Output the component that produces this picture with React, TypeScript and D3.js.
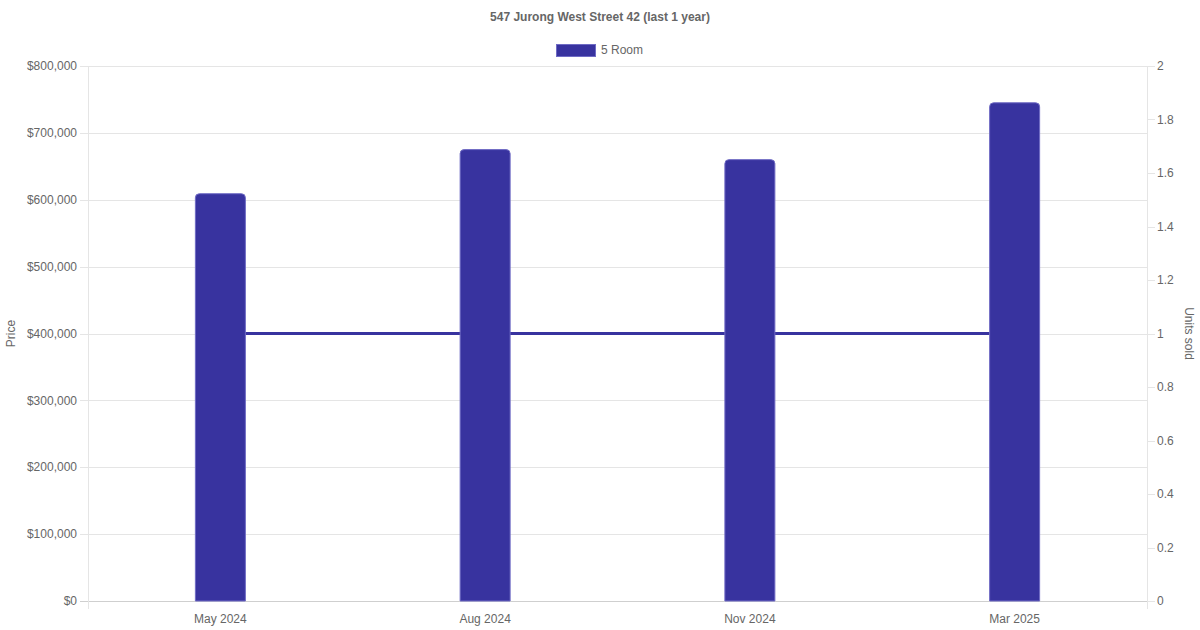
import React, { useEffect, useRef } from 'react';
import * as d3 from 'd3';

const months = ['May 2024', 'Aug 2024', 'Nov 2024', 'Mar 2025'];
const prices = [609000, 675000, 660000, 745000];
const unitsSold = [1, 1, 1, 1];
const priceTicks = [0, 100000, 200000, 300000, 400000, 500000, 600000, 700000, 800000];
const unitTicks = [0, 0.2, 0.4, 0.6, 0.8, 1, 1.2, 1.4, 1.6, 1.8, 2];

const W = 1200;
const H = 630;
const BAR = '#38339f';
const FONT = '"Liberation Sans", Arial, Helvetica, sans-serif';

export default function App() {
  const svgRef = useRef<SVGSVGElement>(null);

  useEffect(() => {
    if (!svgRef.current) return;
    const svg = d3.select(svgRef.current);
    svg.selectAll('*').remove();

    const left = 88, right = 1147, top = 66, bottom = 601;

    const x = d3.scaleBand().domain(months).range([left, right]);
    const yL = d3.scaleLinear().domain([0, 800000]).range([bottom, top]);
    const yR = d3.scaleLinear().domain([0, 2]).range([bottom, top]);

    // grid
    svg.append('g')
      .selectAll('line')
      .data(priceTicks)
      .enter()
      .append('line')
      .attr('x1', left - 8)
      .attr('x2', right)
      .attr('y1', d => Math.round(yL(d)) + 0.5)
      .attr('y2', d => Math.round(yL(d)) + 0.5)
      .attr('stroke', d => (d === 0 ? '#cfcfcf' : '#e5e5e5'))
      .attr('stroke-width', 1);

    // right ticks
    svg.append('g')
      .selectAll('line')
      .data(unitTicks)
      .enter()
      .append('line')
      .attr('x1', right)
      .attr('x2', right + 8)
      .attr('y1', d => Math.round(yR(d)) + 0.5)
      .attr('y2', d => Math.round(yR(d)) + 0.5)
      .attr('stroke', '#e5e5e5');

    // vertical axis lines
    svg.append('line')
      .attr('x1', left + 0.5).attr('x2', left + 0.5)
      .attr('y1', top).attr('y2', bottom + 8)
      .attr('stroke', '#e5e5e5');
    svg.append('line')
      .attr('x1', right + 0.5).attr('x2', right + 0.5)
      .attr('y1', top).attr('y2', bottom + 8)
      .attr('stroke', '#e5e5e5');

    // left tick labels
    svg.append('g')
      .selectAll('text')
      .data(priceTicks)
      .enter()
      .append('text')
      .attr('x', left - 11)
      .attr('y', d => yL(d))
      .attr('dy', '0.35em')
      .attr('text-anchor', 'end')
      .attr('fill', '#666')
      .style('font-size', '12px')
      .text(d => '$' + d3.format(',')(d));

    // right tick labels
    svg.append('g')
      .selectAll('text')
      .data(unitTicks)
      .enter()
      .append('text')
      .attr('x', right + 10)
      .attr('y', d => yR(d))
      .attr('dy', '0.35em')
      .attr('text-anchor', 'start')
      .attr('fill', '#666')
      .style('font-size', '12px')
      .text(d => String(d));

    // x labels
    svg.append('g')
      .selectAll('text')
      .data(months)
      .enter()
      .append('text')
      .attr('x', d => (x(d) || 0) + x.bandwidth() / 2)
      .attr('y', bottom + 18)
      .attr('dy', '0.35em')
      .attr('text-anchor', 'middle')
      .attr('fill', '#666')
      .style('font-size', '12px')
      .text(d => d);

    // axis titles
    svg.append('text')
      .attr('transform', `translate(15,${(top + bottom) / 2}) rotate(-90)`)
      .attr('text-anchor', 'middle')
      .attr('fill', '#666')
      .style('font-size', '12px')
      .text('Price');
    svg.append('text')
      .attr('transform', `translate(1185,${(top + bottom) / 2}) rotate(90)`)
      .attr('text-anchor', 'middle')
      .attr('fill', '#666')
      .style('font-size', '12px')
      .text('Units sold');

    // line (behind bars)
    const line = d3.line<number>()
      .x((_, i) => (x(months[i]) || 0) + x.bandwidth() / 2)
      .y(d => yR(d));
    svg.append('path')
      .datum(unitsSold)
      .attr('d', line)
      .attr('fill', 'none')
      .attr('stroke', BAR)
      .attr('stroke-width', 3);

    // bars with rounded tops
    const bw = 50;
    const r = 4;
    svg.append('g')
      .selectAll('path')
      .data(prices)
      .enter()
      .append('path')
      .attr('d', (d, i) => {
        const cx = (x(months[i]) || 0) + x.bandwidth() / 2;
        const x0 = cx - bw / 2, x1 = cx + bw / 2;
        const y0 = yL(d), y1 = yL(0);
        return `M${x0},${y1}V${y0 + r}Q${x0},${y0} ${x0 + r},${y0}H${x1 - r}Q${x1},${y0} ${x1},${y0 + r}V${y1}Z`;
      })
      .attr('fill', BAR)
      .attr('stroke', '#6f6bc4')
      .attr('stroke-width', 1);

    // title
    svg.append('text')
      .attr('x', W / 2)
      .attr('y', 17)
      .attr('dy', '0.35em')
      .attr('text-anchor', 'middle')
      .attr('fill', '#666')
      .style('font-size', '12px')
      .style('font-weight', 'bold')
      .text('547 Jurong West Street 42 (last 1 year)');

    // legend
    svg.append('rect')
      .attr('x', 556.5).attr('y', 44.5)
      .attr('width', 39).attr('height', 12)
      .attr('fill', BAR)
      .attr('stroke', '#6f6bc4');
    svg.append('text')
      .attr('x', 601)
      .attr('y', 50)
      .attr('dy', '0.35em')
      .attr('fill', '#666')
      .style('font-size', '12px')
      .text('5 Room');
  }, []);

  return (
    <svg
      ref={svgRef}
      width={W}
      height={H}
      style={{ position: 'absolute', left: 0, top: 0, background: '#fff', fontFamily: FONT }}
    />
  );
}
